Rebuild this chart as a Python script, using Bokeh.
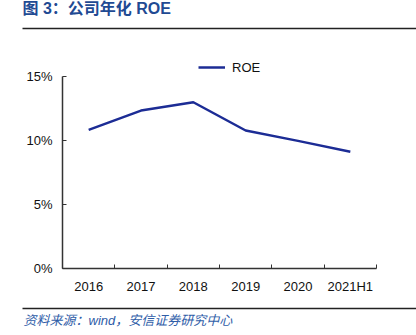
from bokeh.plotting import figure
from bokeh.models import (FixedTicker, Legend, LegendItem, Range1d, Label, BoxAnnotation)
from bokeh.embed import file_html
from bokeh.resources import INLINE

# ---- data ----
categories = ["2016", "2017", "2018", "2019", "2020", "2021H1"]
roe = [10.83, 12.34, 12.99, 10.78, 9.97, 9.12]
y_ticks = [0, 5, 10, 15]
title_text = "图 3：公司年化 ROE"
source_text = "资料来源：wind，安信证券研究中心"
series_name = "ROE"

W, H = 416, 335
# plot area (axes box) in canvas pixels
AL, AR, AT, AB = 62, 376, 76, 268
LATIN = "Liberation Sans"
CJK = "Liberation Sans, Noto Sans CJK SC"

n = len(categories)
ymax = y_ticks[-1]
kx = (AR - AL) / n
ky = (AB - AT) / ymax
x_range = Range1d(-AL / kx, n + (W - AR) / kx)
y_range = Range1d(-(H - AB) / ky, ymax + AT / ky)

p = figure(width=W, height=H, output_backend="svg", toolbar_location=None,
           x_range=x_range, y_range=y_range,
           min_border=0, min_border_left=0, min_border_right=0,
           min_border_top=0, min_border_bottom=0)
p.outline_line_color = None
p.xgrid.visible = False
p.ygrid.visible = False
p.background_fill_color = "white"
p.border_fill_color = "white"

xs = [i + 0.5 for i in range(n)]
r = p.line(xs, roe, line_color="#1C2C95", line_width=2.5)

xa = p.xaxis[0]
xa.fixed_location = 0
xa.bounds = (0, n)
xa.ticker = FixedTicker(ticks=xs, minor_ticks=list(range(n + 1)))
xa.major_label_overrides = {x: c for x, c in zip(xs, categories)}
xa.major_tick_line_color = None
xa.minor_tick_in = 4
xa.minor_tick_out = 0
xa.minor_tick_line_color = "#333333"
xa.axis_line_color = "#333333"
xa.axis_line_width = 1.5
xa.major_label_text_font = LATIN
xa.major_label_text_font_size = "13px"
xa.major_label_text_color = "#111111"
xa.major_label_standoff = 4

ya = p.yaxis[0]
ya.fixed_location = 0
ya.bounds = (0, ymax)
ya.ticker = FixedTicker(ticks=y_ticks)
ya.major_label_overrides = {t: f"{t}%" for t in y_ticks}
ya.major_tick_in = 4
ya.major_tick_out = 0
ya.minor_tick_line_color = None
ya.major_tick_line_color = "#333333"
ya.axis_line_color = "#333333"
ya.axis_line_width = 1.5
ya.major_label_text_font = LATIN
ya.major_label_text_font_size = "13px"
ya.major_label_text_color = "#111111"
ya.major_label_standoff = 10

# legend (screen units: from frame's bottom-left)
legend = Legend(items=[LegendItem(label=series_name, renderers=[r])],
                location=(198, H - 67 - 9), orientation="horizontal",
                padding=0, margin=0, spacing=0,
                glyph_width=27, glyph_height=18, label_standoff=7,
                border_line_color=None, background_fill_alpha=0,
                label_text_font=LATIN, label_text_font_size="13px",
                label_text_color="#111111")
p.add_layout(legend, "center")

# title and source
p.add_layout(Label(x=22, y=H - 8, x_units="screen", y_units="screen", text=title_text,
                   text_font=CJK, text_font_style="bold", text_font_size="16px",
                   text_color="#1F4A93", text_baseline="middle", text_align="left"))
p.add_layout(Label(x=23, y=H - 320, x_units="screen", y_units="screen", text=source_text,
                   text_font=CJK, text_font_style="italic", text_font_size="13px",
                   text_color="#2F5DA8", text_baseline="middle", text_align="left"))
for yy in (28, 308):
    p.add_layout(BoxAnnotation(left=22, right=W, bottom=H - yy - 0.7, top=H - yy + 0.7,
                               left_units="screen", right_units="screen",
                               top_units="screen", bottom_units="screen",
                               fill_color="#222222", fill_alpha=1, line_color=None,
                               line_alpha=0))

open("out.html", "w").write(file_html(p, INLINE))
